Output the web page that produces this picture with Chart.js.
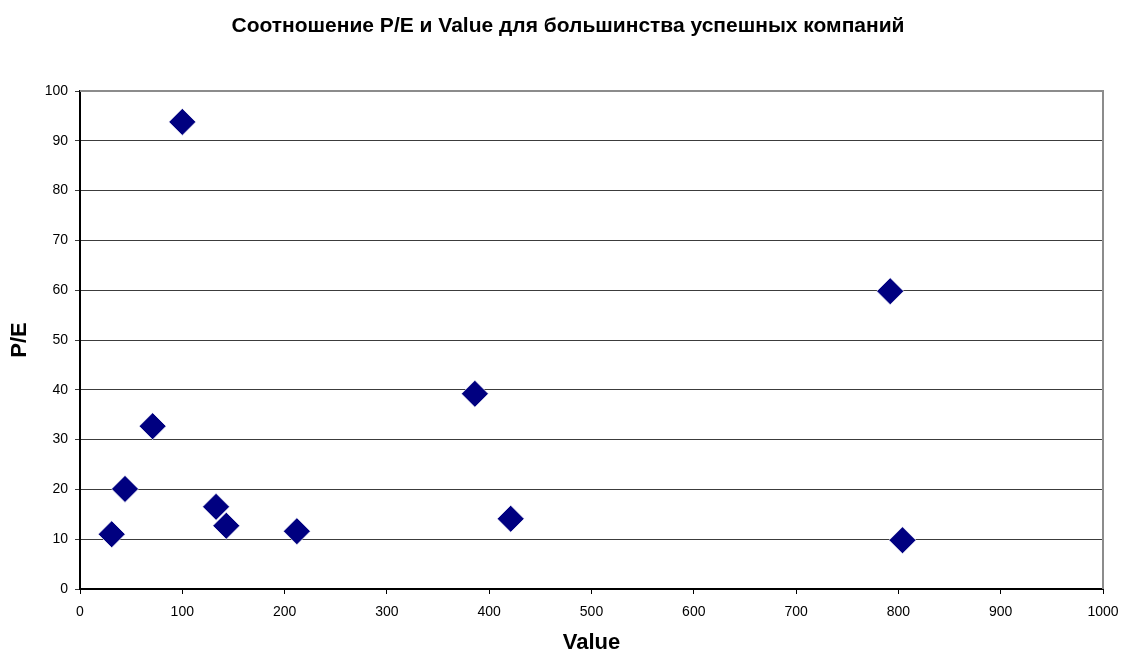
<!DOCTYPE html>
<html>
<head>
<meta charset="utf-8">
<script src="https://cdn.jsdelivr.net/npm/chart.js@4.4.0/dist/chart.umd.min.js"></script>
<style>
  html, body { margin: 0; padding: 0; background: #fff; }
  #wrap { width: 1122px; height: 652px; }
</style>
</head>
<body>
<div id="wrap"><canvas id="peCanvas"></canvas></div>
<script>
var valueX = [31, 44, 71, 100, 133, 143, 212, 386, 421, 792, 804];
var peY = [11.0, 20.1, 32.7, 93.8, 16.5, 12.7, 11.6, 39.2, 14.1, 59.8, 9.8];
var chartTitle = 'Соотношение P/E и Value для большинства успешных компаний';
var xTitle = 'Value';
var yTitle = 'P/E';

var points = [];
for (var i = 0; i < valueX.length; i++) {
    points.push({ x: valueX[i], y: peY[i] });
}

// gray frame on top/right of the plot, plus the title (placed like the original)
var frame = {
    id: 'frame',
    afterDraw: function (chart) {
        var a = chart.chartArea;
        var ctx = chart.ctx;
        ctx.save();
        ctx.strokeStyle = '#8c8c8c';
        ctx.lineWidth = 2;
        ctx.beginPath();
        ctx.moveTo(a.left, a.top);
        ctx.lineTo(a.right, a.top);
        ctx.lineTo(a.right, a.bottom);
        ctx.stroke();

        ctx.fillStyle = '#000';
        ctx.font = 'bold 21px "Liberation Sans", Arial, sans-serif';
        ctx.textAlign = 'center';
        ctx.textBaseline = 'middle';
        ctx.fillText(chartTitle, 568, 26);
        ctx.restore();
    }
};

Chart.defaults.font.family = '"Liberation Sans", Arial, sans-serif';
Chart.defaults.color = '#000';

new Chart(document.getElementById('peCanvas').getContext('2d'), {
    type: 'scatter',
    data: {
        datasets: [{
            label: 'P/E',
            data: points,
            pointStyle: 'rectRot',
            pointRadius: 13.5,
            pointHoverRadius: 13.5,
            backgroundColor: '#000080',
            borderColor: '#ffffff',
            borderWidth: 0.7
        }]
    },
    options: {
        responsive: true,
        maintainAspectRatio: false,
        animation: false,
        layout: { padding: { left: 0, right: 19, top: 91, bottom: 0 } },
        plugins: {
            legend: { display: false },
            tooltip: { enabled: false },
            title: { display: false }
        },
        scales: {
            x: {
                type: 'linear',
                min: 0,
                max: 1000,
                afterFit: function (s) {
                    s.height = 63;
                    s.paddingLeft = 0;
                    s.paddingRight = 0;
                },
                ticks: {
                    stepSize: 100,
                    font: { size: 14 },
                    padding: 10,
                    callback: function (v) { return String(v); }
                },
                grid: { drawOnChartArea: false, drawTicks: true, tickLength: 5, color: '#000' },
                border: { color: '#000', width: 2 },
                title: { display: true, text: xTitle, font: { size: 22, weight: 'bold' }, padding: { top: 0, bottom: -4 } }
            },
            y: {
                min: 0,
                max: 100,
                afterFit: function (s) { s.width = 80; },
                ticks: { stepSize: 10, font: { size: 14 }, padding: 7 },
                grid: { color: '#3c3c3c', tickLength: 5, lineWidth: 1 },
                border: { color: '#000', width: 2 },
                title: { display: true, text: yTitle, font: { size: 22, weight: 'bold' }, padding: { top: 7, bottom: 0 } }
            }
        }
    },
    plugins: [frame]
});
</script>
</body>
</html>
